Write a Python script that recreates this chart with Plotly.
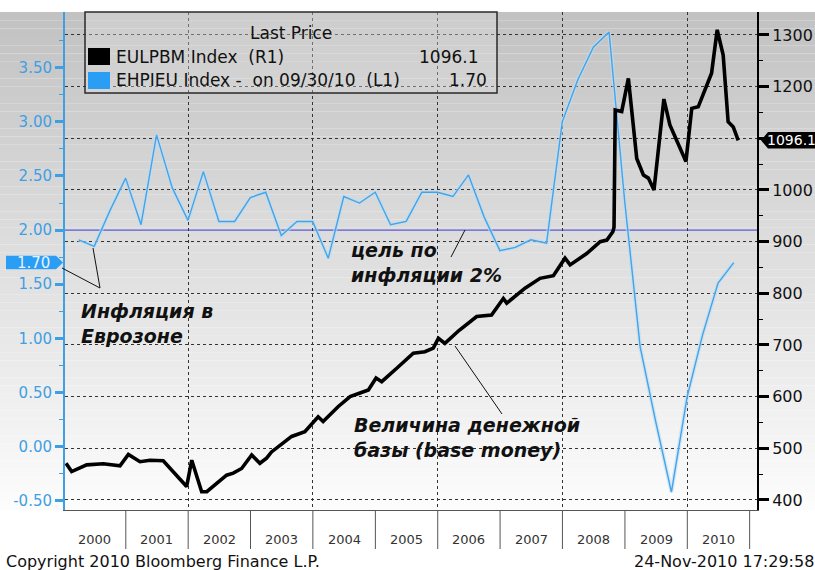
import plotly.graph_objects as go

# ---------------- data ----------------
inflation_dates = [
    "2000-03-31", "2000-06-30", "2000-09-30", "2000-12-31",
    "2001-03-31", "2001-06-30", "2001-09-30", "2001-12-31",
    "2002-03-31", "2002-06-30", "2002-09-30", "2002-12-31",
    "2003-03-31", "2003-06-30", "2003-09-30", "2003-12-31",
    "2004-03-31", "2004-06-30", "2004-09-30", "2004-12-31",
    "2005-03-31", "2005-06-30", "2005-09-30", "2005-12-31",
    "2006-03-31", "2006-06-30", "2006-09-30", "2006-12-31",
    "2007-03-31", "2007-06-30", "2007-09-30", "2007-12-31",
    "2008-03-31", "2008-06-30", "2008-09-30", "2008-12-31",
    "2009-03-31", "2009-06-30", "2009-09-30", "2009-12-31",
    "2010-03-31", "2010-06-30", "2010-09-30",
]
inflation_values = [
    1.91, 1.85, 2.18, 2.48,
    2.05, 2.88, 2.39, 2.09,
    2.54, 2.08, 2.08, 2.30,
    2.35, 1.95, 2.08, 2.08,
    1.74, 2.31, 2.25, 2.35,
    2.05, 2.08, 2.35, 2.35,
    2.31, 2.51, 2.12, 1.81,
    1.84, 1.91, 1.88, 3.00,
    3.39, 3.69, 3.83, 2.26,
    0.92, 0.23, -0.42, 0.46,
    1.03, 1.51, 1.70,
]

base_money_dates = [
    "2000-01-17", "2000-02-19", "2000-05-17", "2000-08-22", "2000-11-28",
    "2001-01-16", "2001-03-25", "2001-05-23", "2001-08-08", "2001-12-23",
    "2002-01-22", "2002-03-21", "2002-04-20", "2002-08-14", "2002-09-22",
    "2002-11-10", "2003-01-08", "2003-02-25", "2003-04-05", "2003-05-04",
    "2003-08-30", "2003-11-15", "2004-02-01", "2004-03-01", "2004-05-29",
    "2004-08-06", "2004-10-03", "2004-11-21", "2005-01-05", "2005-02-07",
    "2005-05-06", "2005-08-11", "2005-10-18", "2005-12-06", "2006-01-05",
    "2006-02-12", "2006-05-05", "2006-08-17", "2006-11-12", "2007-01-20",
    "2007-02-09", "2007-05-27", "2007-08-23", "2007-11-09", "2008-01-16",
    "2008-02-15", "2008-05-22", "2008-08-09", "2008-09-17", "2008-10-22",
    "2008-10-29", "2008-11-05", "2008-12-13", "2009-01-21", "2009-03-11",
    "2009-04-19", "2009-05-18", "2009-06-20", "2009-08-17", "2009-09-21",
    "2009-12-24", "2010-01-27", "2010-03-06", "2010-04-04", "2010-05-23",
    "2010-06-25", "2010-07-30", "2010-08-28", "2010-09-27", "2010-10-26",
]
base_money_values = [
    471, 455, 468, 470, 466,
    488, 474, 477, 476, 426,
    477, 416, 416, 448, 452,
    461, 487, 471, 481, 493,
    523, 532, 561, 552, 581,
    600, 607, 613, 636, 629,
    655, 684, 687, 694, 713,
    703, 728, 755, 758, 790,
    781, 810, 829, 834, 868,
    855, 877, 900, 903, 919,
    928, 1155, 1152, 1216, 1061,
    1029, 1023, 1000, 1176, 1126,
    1055, 1158, 1161, 1184, 1226,
    1310, 1261, 1132, 1122, 1096.1,
]

years = list(range(2000, 2011))
left_ticks = [-0.5, 0.0, 0.5, 1.0, 1.5, 2.0, 2.5, 3.0, 3.5]
right_ticks = [400, 500, 600, 700, 800, 900, 1000, 1100, 1200, 1300]
inflation_target = 2.0

# ---------------- styling ----------------
FONT = "DejaVu Sans"
BLUE = "#3f9fe3"
W, H = 815, 570
ML, MR, MT, MB = 65, 58, 12, 60
PW, PH = W - ML - MR, H - MT - MB


def px(xp):
    return (xp - ML) / PW


def py(yp):
    return (H - MB - yp) / PH


fig = go.Figure()

fig.add_trace(go.Scatter(x=inflation_dates, y=inflation_values, mode="lines",
                         line=dict(color="rgba(185,222,247,0.6)", width=4),
                         hoverinfo="skip", showlegend=False))
fig.add_trace(go.Scatter(x=inflation_dates, y=inflation_values, mode="lines",
                         line=dict(color="#45a3e6", width=1.4),
                         name="EHPIEU Index", showlegend=False))
fig.add_trace(go.Scatter(x=base_money_dates, y=base_money_values, mode="lines",
                         yaxis="y2", line=dict(color="#000000", width=3.6),
                         name="EULPBM Index", showlegend=False))

shapes = []
# gradient background (stepped)
n = 60
for i in range(n):
    f = i / (n - 1)
    g = int(round(194 + 58 * f))
    g = min(g, 252)
    col = f"rgb({g},{g},{g})"
    shapes.append(dict(type="rect", xref="paper", yref="paper",
                       x0=px(0), x1=px(W), y0=1 - (i + 1) / n, y1=1 - i / n,
                       fillcolor=col, line=dict(width=0), layer="below"))

# inflation target line
shapes.append(dict(type="line", xref="paper", yref="y", x0=0, x1=1,
                   y0=inflation_target, y1=inflation_target,
                   line=dict(color="#5a5ad8", width=1.4), layer="between"))

# year band separators
for yv in years[1:] + [years[-1] + 1]:
    shapes.append(dict(type="line", xref="x", yref="paper",
                       x0=f"{yv}-01-01", x1=f"{yv}-01-01", y0=0, y1=py(549),
                       line=dict(color="#555555", width=1)))

# legend box
shapes.append(dict(type="rect", xref="paper", yref="paper",
                   x0=px(85), x1=px(497), y0=py(93), y1=py(12),
                   fillcolor="rgba(225,225,225,0.35)",
                   line=dict(color="#2a2a2a", width=1.5), layer="above"))
shapes.append(dict(type="rect", xref="paper", yref="paper",
                   x0=px(88), x1=px(110), y0=py(65), y1=py(48),
                   fillcolor="#000000", line=dict(width=0)))
shapes.append(dict(type="rect", xref="paper", yref="paper",
                   x0=px(88), x1=px(110), y0=py(89), y1=py(72),
                   fillcolor="#2a9df4", line=dict(width=0)))

# last value callouts
lv_inf = inflation_values[-1]
dy = 0.062
shapes.append(dict(type="path", xref="paper", yref="y",
                   path=(f"M {px(6)},{lv_inf - dy} L {px(56)},{lv_inf - dy} "
                         f"L {px(63)},{lv_inf} L {px(56)},{lv_inf + dy} "
                         f"L {px(6)},{lv_inf + dy} Z"),
                   fillcolor="#2a9df4", line=dict(width=0)))
lv_bm = base_money_values[-1]
dv = 16
shapes.append(dict(type="path", xref="paper", yref="y2",
                   path=(f"M {px(761)},{lv_bm} L {px(768)},{lv_bm + dv} "
                         f"L {px(840)},{lv_bm + dv} L {px(840)},{lv_bm - dv} "
                         f"L {px(768)},{lv_bm - dv} Z"),
                   fillcolor="#000000", line=dict(width=0)))

# pointer lines for the text notes
for (xa, ya, xb, yb) in [(465, 230, 451, 257), (62, 268, 100, 288),
                         (93, 248, 100, 288), (455, 346, 502, 414)]:
    shapes.append(dict(type="line", xref="paper", yref="paper",
                       x0=px(xa), y0=py(ya), x1=px(xb), y1=py(yb),
                       line=dict(color="#111111", width=1)))

ann = []
# year labels
for yv in years:
    ann.append(dict(x=f"{yv}-07-02", y=py(539), xref="x", yref="paper",
                    text=str(yv), showarrow=False,
                    font=dict(family=FONT, size=13, color="#333333"),
                    xanchor="center", yanchor="middle"))

# legend texts
LEG = dict(family=FONT, size=17, color="#111")
ann.append(dict(x=px(291), y=py(33), xref="paper", yref="paper", text="Last Price",
                showarrow=False, font=LEG, xanchor="center", yanchor="middle"))
ann.append(dict(x=px(114), y=py(57), xref="paper", yref="paper",
                text="EULPBM Index  (R1)", showarrow=False, font=LEG,
                xanchor="left", yanchor="middle"))
ann.append(dict(x=px(114), y=py(80), xref="paper", yref="paper",
                text="EHPIEU Index -  on 09/30/10  (L1)", showarrow=False,
                font=LEG, xanchor="left", yanchor="middle"))
ann.append(dict(x=px(480), y=py(57), xref="paper", yref="paper",
                text=f"{lv_bm:.1f}", showarrow=False, font=LEG,
                xanchor="right", yanchor="middle"))
ann.append(dict(x=px(489), y=py(80), xref="paper", yref="paper",
                text=f"{lv_inf:.2f}", showarrow=False, font=LEG,
                xanchor="right", yanchor="middle"))

# callout texts
ann.append(dict(x=px(33), y=lv_inf, xref="paper", yref="y", text=f"{lv_inf:.2f}",
                showarrow=False, font=dict(family=FONT, size=15, color="#e6f3ff"),
                xanchor="center", yanchor="middle"))
ann.append(dict(x=px(765), y=lv_bm, xref="paper", yref="y2", text=f"{lv_bm:.1f}",
                showarrow=False, font=dict(family=FONT, size=14, color="#ffffff"),
                xanchor="left", yanchor="middle"))

# notes
note_font = dict(family=FONT, size=19, color="#111111")
ann.append(dict(x=px(349), y=py(262), xref="paper", yref="paper",
                text="<b><i>цель по<br>инфляции 2%</i></b>", showarrow=False,
                font=note_font, xanchor="left", yanchor="middle", align="left"))
ann.append(dict(x=px(79), y=py(323), xref="paper", yref="paper",
                text="<b><i>Инфляция в<br>Еврозоне</i></b>", showarrow=False,
                font=note_font, xanchor="left", yanchor="middle", align="left"))
ann.append(dict(x=px(352), y=py(437), xref="paper", yref="paper",
                text="<b><i>Величина денежной<br>базы (base money)</i></b>",
                showarrow=False, font=note_font, xanchor="left",
                yanchor="middle", align="left"))

# footer
ann.append(dict(x=px(4), y=py(561), xref="paper", yref="paper",
                text="Copyright 2010 Bloomberg Finance L.P.", showarrow=False,
                font=dict(family=FONT, size=16, color="#111"),
                xanchor="left", yanchor="middle"))
ann.append(dict(x=px(632), y=py(561), xref="paper", yref="paper",
                text="24-Nov-2010 17:29:58", showarrow=False,
                font=dict(family=FONT, size=16, color="#111"),
                xanchor="left", yanchor="middle"))

left_minor = [v + 0.25 for v in left_ticks]
right_minor = [v + 50 for v in right_ticks[:-1]]
# the last-value callout covers the 1100 label on the right axis
right_text = ["" if v == 1100 else str(v) for v in right_ticks]

fig.update_layout(
    width=W, height=H, autosize=False,
    margin=dict(l=ML, r=MR, t=MT, b=MB, pad=0),
    paper_bgcolor="#ffffff", plot_bgcolor="rgba(0,0,0,0)",
    showlegend=False,
    xaxis=dict(type="date", range=["2000-01-11", "2011-02-13"], automargin=False,
               showgrid=True, gridcolor="#333333", griddash="dot", gridwidth=1,
               tick0="2000-01-01", dtick="M24", showticklabels=False, ticks="",
               showline=True, linecolor="#555555", linewidth=1, zeroline=False),
    yaxis=dict(range=[-0.586, 4.015], tickmode="array", tickvals=left_ticks,
               ticktext=[f"{v:.2f}" for v in left_ticks], automargin=False,
               tickfont=dict(family=FONT, size=15, color=BLUE),
               showgrid=False, zeroline=False, showline=True, linecolor=BLUE,
               linewidth=2, ticks="outside", ticklen=8, tickwidth=3,
               tickcolor=BLUE,
               minor=dict(tickvals=left_minor, ticks="outside", ticklen=4,
                          tickwidth=1, tickcolor=BLUE, showgrid=False)),
    yaxis2=dict(range=[380.6, 1344.5], overlaying="y", side="right",
                tickmode="array", tickvals=right_ticks, ticktext=right_text,
                automargin=False,
                tickfont=dict(family=FONT, size=16, color="#111111"),
                showgrid=True, gridcolor="#333333", griddash="dot", gridwidth=1,
                zeroline=False, showline=True, linecolor="#000000", linewidth=2,
                ticks="outside", ticklen=10, tickwidth=3, tickcolor="#000000",
                minor=dict(tickvals=right_minor, ticks="outside", ticklen=4,
                           tickwidth=1, tickcolor="#000000", showgrid=False)),
    shapes=shapes,
    annotations=ann,
)

fig.write_html(
    "out.html",
    config={"displayModeBar": False},
    post_script=("document.documentElement.style.overflow='hidden';"
                 "document.body.style.overflow='hidden';"
                 "document.body.style.margin='0';"
                 "document.body.style.padding='0';"),
)
